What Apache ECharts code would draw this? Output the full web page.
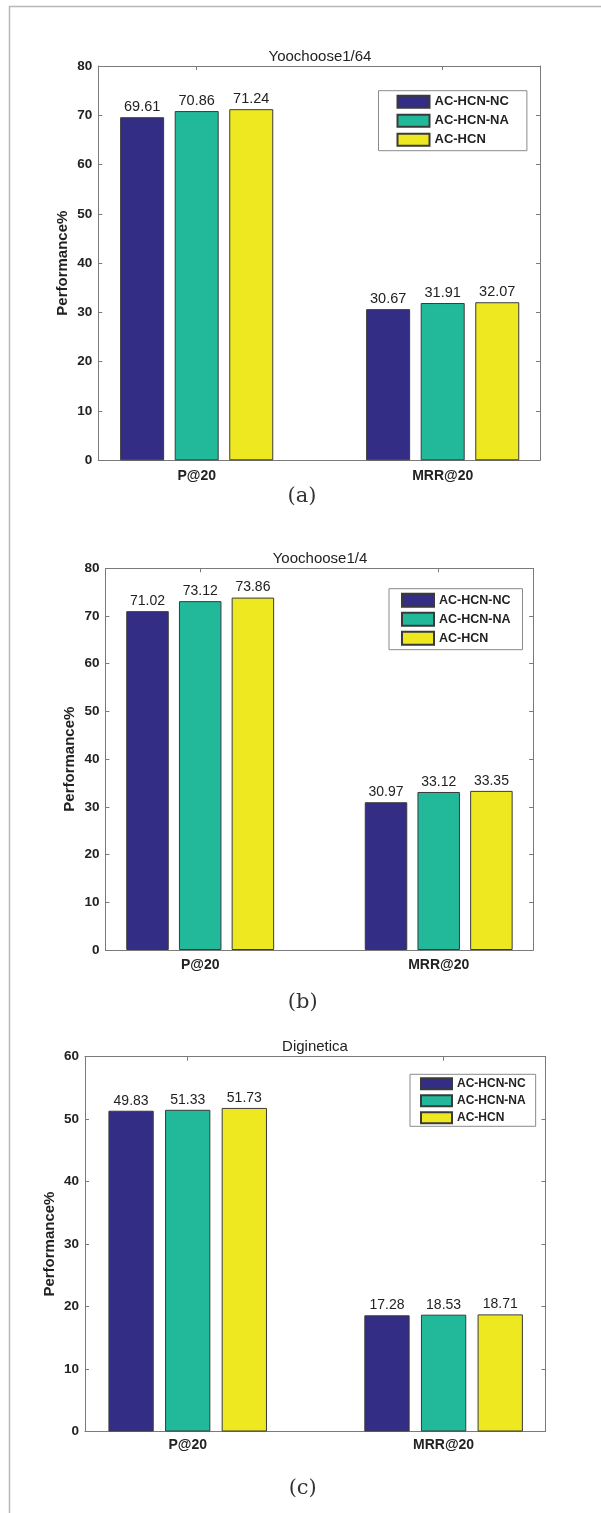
<!DOCTYPE html>
<html>
<head>
<meta charset="utf-8">
<script src="https://cdn.jsdelivr.net/npm/echarts@6/dist/echarts.min.js"></script>
<style>
html,body{margin:0;padding:0;background:#fff;}
#main{width:601px;height:1513px;}
</style>
</head>
<body>
<div id="main"></div>
<script>
// ---------- data ----------
const categories = ['P@20', 'MRR@20'];
const seriesNames = ['AC-HCN-NC', 'AC-HCN-NA', 'AC-HCN'];
const titles = ['Yoochoose1/64', 'Yoochoose1/4', 'Diginetica'];
const captions = ['(a)', '(b)', '(c)'];

// (a) Yoochoose1/64
const a_NC = [69.61, 30.67];
const a_NA = [70.86, 31.91];
const a_HCN = [71.24, 32.07];
// (b) Yoochoose1/4
const b_NC = [71.02, 30.97];
const b_NA = [73.12, 33.12];
const b_HCN = [73.86, 33.35];
// (c) Diginetica – bar heights as drawn
const c_NC = [51.35, 18.6];
const c_NA = [51.5, 18.7];
const c_HCN = [51.8, 18.75];
// (c) Diginetica – printed value labels
const c_NC_label = [49.83, 17.28];
const c_NA_label = [51.33, 18.53];
const c_HCN_label = [51.73, 18.71];

const yMax = [80, 80, 60];
const yInterval = 10;

const barValues = [[a_NC, a_NA, a_HCN], [b_NC, b_NA, b_HCN], [c_NC, c_NA, c_HCN]];
const barLabels = [[a_NC, a_NA, a_HCN], [b_NC, b_NA, b_HCN], [c_NC_label, c_NA_label, c_HCN_label]];

// ---------- styling / layout ----------
const colors = ['#342D85', '#22B89A', '#EEE821'];
const axisColor = '#7a7a7a';
const textColor = '#222';
const sans = 'Liberation Sans, Arial, sans-serif';

const layouts = [
  { frame: {left: 98.3, top: 66, width: 441.7, height: 394.3},
    bars: {left: 73.7, width: 492},
    barWidth: 44, barGap: '24%', valFont: 14.5, xMargin: 9,
    titleXY: [320, 57], capXY: [302, 497],
    legend: {left: 378.5, top: 90.7, itemWidth: 32, itemHeight: 12, itemGap: 5, font: 13, padding: [4, 18, 4, 18]} },
  { frame: {left: 105.4, top: 568.3, width: 427.8, height: 381.7},
    bars: {left: 80.95, width: 477},
    barWidth: 42.5, barGap: '24%', valFont: 14, xMargin: 8,
    titleXY: [320, 559], capXY: [302.7, 1003],
    legend: {left: 389, top: 588.7, itemWidth: 32, itemHeight: 13, itemGap: 4, font: 12.5, padding: [4, 12, 4, 12]} },
  { frame: {left: 85, top: 1056.7, width: 460.5, height: 374.8},
    bars: {left: 59.75, width: 511.8},
    barWidth: 45.3, barGap: '25%', valFont: 14, xMargin: 7,
    titleXY: [315, 1047], capXY: [302.7, 1489],
    legend: {left: 410, top: 1074.3, itemWidth: 31, itemHeight: 11, itemGap: 4, font: 12, padding: [3, 10, 2, 10]} }
];

const option = {
  animation: false,
  backgroundColor: '#fff',
  grid: [], xAxis: [], yAxis: [], series: [], legend: [],
  graphic: []
};

layouts.forEach((L, k) => {
  const gFrame = option.grid.length;
  option.grid.push({left: L.frame.left, top: L.frame.top, width: L.frame.width, height: L.frame.height,
    containLabel: false, outerBoundsMode: 'none'});
  const gBars = option.grid.length;
  option.grid.push({left: L.bars.left, top: L.frame.top, width: L.bars.width, height: L.frame.height,
    containLabel: false, outerBoundsMode: 'none'});

  const lineStyle = {color: axisColor, width: 1};
  // frame axes
  option.xAxis.push({gridIndex: gFrame, type: 'value', min: 0, max: 1, position: 'bottom',
    axisLine: {show: true, onZero: false, lineStyle}, axisTick: {show: false}, axisLabel: {show: false}, splitLine: {show: false}});
  option.xAxis.push({gridIndex: gFrame, type: 'value', min: 0, max: 1, position: 'top',
    axisLine: {show: true, onZero: false, lineStyle}, axisTick: {show: false}, axisLabel: {show: false}, splitLine: {show: false}});
  option.yAxis.push({gridIndex: gFrame, type: 'value', min: 0, max: yMax[k], interval: yInterval, position: 'left',
    name: 'Performance%', nameLocation: 'middle', nameGap: 28, nameRotate: 90, nameMoveOverlap: false,
    nameTextStyle: {fontFamily: sans, fontWeight: 'bold', fontSize: 15, color: textColor},
    axisLine: {show: true, onZero: false, lineStyle},
    axisTick: {show: true, inside: true, length: 4, lineStyle},
    axisLabel: {show: true, margin: 6, fontFamily: sans, fontWeight: 'bold', fontSize: 13.5, color: textColor},
    splitLine: {show: false}});
  option.yAxis.push({gridIndex: gFrame, type: 'value', min: 0, max: yMax[k], interval: yInterval, position: 'right',
    axisLine: {show: true, onZero: false, lineStyle},
    axisTick: {show: true, inside: true, length: 4, lineStyle},
    axisLabel: {show: false}, splitLine: {show: false}});

  // bar axes
  const xB = option.xAxis.length;
  option.xAxis.push({gridIndex: gBars, type: 'category', data: categories, position: 'bottom',
    axisLine: {show: false, onZero: false}, axisTick: {show: false},
    axisLabel: {show: true, margin: L.xMargin, fontFamily: sans, fontWeight: 'bold', fontSize: 14, color: textColor},
    splitLine: {show: false}});
  option.xAxis.push({gridIndex: gBars, type: 'category', data: categories, position: 'top',
    axisLine: {show: false, onZero: false},
    axisTick: {show: true, inside: true, alignWithLabel: true, length: 4, lineStyle},
    axisLabel: {show: false}, splitLine: {show: false}});
  const yB = option.yAxis.length;
  option.yAxis.push({gridIndex: gBars, type: 'value', min: 0, max: yMax[k], interval: yInterval, show: false});

  seriesNames.forEach((name, s) => {
    const labs = barLabels[k][s];
    option.series.push({
      type: 'bar', name: name, xAxisIndex: xB, yAxisIndex: yB,
      data: barValues[k][s],
      barWidth: L.barWidth, barGap: L.barGap,
      itemStyle: {color: colors[s], borderColor: '#3a3a3a', borderWidth: 1},
      label: {show: true, position: 'top', distance: 3, fontFamily: sans, fontSize: L.valFont, color: textColor,
        formatter: p => labs[p.dataIndex].toFixed(2)},
      emphasis: {disabled: true}
    });
  });

  option.legend.push({
    orient: 'vertical', left: L.legend.left, top: L.legend.top,
    data: seriesNames, icon: 'rect',
    itemWidth: L.legend.itemWidth, itemHeight: L.legend.itemHeight, itemGap: L.legend.itemGap,
    padding: L.legend.padding, borderColor: '#8a8a8a', borderWidth: 1, backgroundColor: '#fff',
    selectedMode: false,
    textStyle: {fontFamily: sans, fontWeight: 'bold', fontSize: L.legend.font, color: textColor}
  });

  option.graphic.push({type: 'text', x: L.titleXY[0], y: L.titleXY[1], z: 10,
    style: {text: titles[k], align: 'center', verticalAlign: 'middle', fontFamily: sans, fontSize: 15, fill: textColor}});
  option.graphic.push({type: 'text', x: L.capXY[0], y: L.capXY[1], z: 10,
    style: {text: captions[k], align: 'center', verticalAlign: 'middle', fontFamily: 'DejaVu Serif, serif', fontSize: 21, fill: '#333'}});
});

// page frame lines
option.graphic.push({type: 'line', shape: {x1: 9, y1: 6.5, x2: 601, y2: 6.5}, style: {stroke: '#b8b8b8', lineWidth: 1.5}});
option.graphic.push({type: 'line', shape: {x1: 9.5, y1: 6, x2: 9.5, y2: 1513}, style: {stroke: '#b8b8b8', lineWidth: 1.5}});

const chart = echarts.init(document.getElementById('main'), null, {renderer: 'canvas'});
chart.setOption(option);
</script>
</body>
</html>
